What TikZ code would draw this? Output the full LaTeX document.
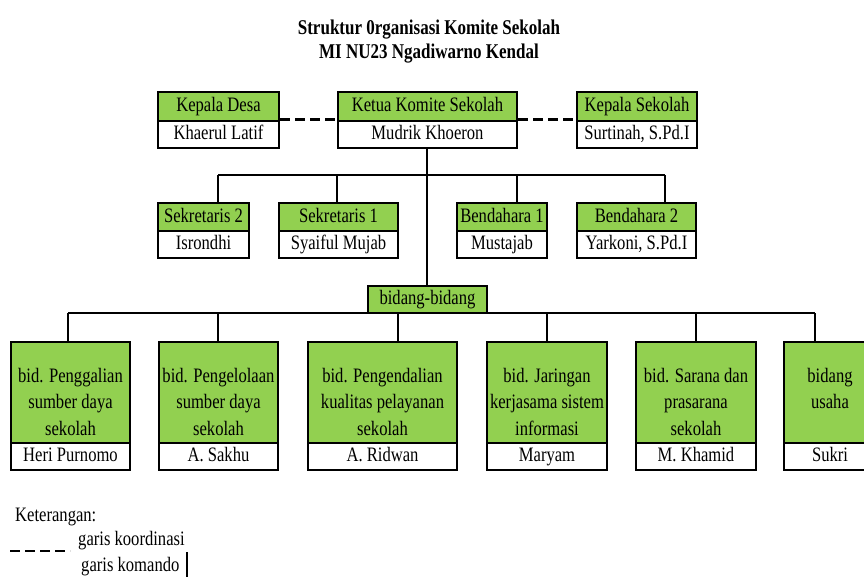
\documentclass[tikz,border=0pt]{standalone}
\usepackage{fontspec}
\setmainfont[FakeStretch=0.81]{Liberation Serif}
\definecolor{hdgreen}{HTML}{92D050}
\tikzset{
  conn/.style={line width=2.8pt},
  coord/.style={line width=2.8pt, dash pattern=on 10pt off 5pt},
  boxbase/.style={draw, line width=2.3pt, inner sep=0pt, text height=14pt, text depth=4pt,
    font=\fontsize{20.5}{26}\selectfont},
  head/.style={boxbase, fill=hdgreen},
  nm/.style={boxbase, fill=white},
  bighead/.style={draw, line width=2.3pt, fill=hdgreen, inner sep=0pt},
  btext/.style={align=center, inner sep=0pt, anchor=north, font=\fontsize{20.5}{26.5}\selectfont},
  plain/.style={inner sep=0pt, font=\fontsize{20.5}{26}\selectfont},
  ttl/.style={inner sep=0pt, anchor=base, font=\fontsize{21}{24}\selectfont\bfseries},
}
\begin{document}
\begin{tikzpicture}[x=1pt,y=-1pt]
\useasboundingbox (0,0) rectangle (864,576);
% title
\node[ttl] (t1) at (429,34) {Struktur 0rganisasi Komite Sekolah};
\node[ttl] (t2) at (429,58) {MI NU23 Ngadiwarno Kendal};
% top row
\node[head, minimum width=121pt, minimum height=29pt] (kdH) at (218.5,106.5) {Kepala Desa};
\node[nm,   minimum width=121pt, minimum height=27pt] (kdN) at (218.5,134.5) {Khaerul Latif};
\node[head, minimum width=179pt, minimum height=29pt] (ktH) at (427.5,106.5) {Ketua Komite Sekolah};
\node[nm,   minimum width=179pt, minimum height=27pt] (ktN) at (427.5,134.5) {Mudrik Khoeron};
\node[head, minimum width=120pt, minimum height=29pt] (ksH) at (637,106.5) {Kepala Sekolah};
\node[nm,   minimum width=120pt, minimum height=27pt] (ksN) at (637,134.5) {Surtinah, S.Pd.I};
% second row
\node[head, minimum width=91pt,  minimum height=28pt] (s2H) at (203.5,217) {Sekretaris 2};
\node[nm,   minimum width=91pt,  minimum height=27pt] (s2N) at (203.5,244.5) {Isrondhi};
\node[head, minimum width=119pt, minimum height=28pt] (s1H) at (338.5,217) {Sekretaris 1};
\node[nm,   minimum width=119pt, minimum height=27pt] (s1N) at (338.5,244.5) {Syaiful Mujab};
\node[head, minimum width=90pt,  minimum height=28pt] (b1H) at (502,217) {Bendahara 1};
\node[nm,   minimum width=90pt,  minimum height=27pt] (b1N) at (502,244.5) {Mustajab};
\node[head, minimum width=119pt, minimum height=28pt] (b2H) at (636.5,217) {Bendahara 2};
\node[nm,   minimum width=119pt, minimum height=27pt] (b2N) at (636.5,244.5) {Yarkoni, S.Pd.I};
% bidang
\node[head, minimum width=119pt, minimum height=27pt] (bid) at (427.5,299.5) {bidang-bidang};
% bottom row
\node[bighead, minimum width=119pt, minimum height=101pt] (p1) at (70.5,392.5) {};
\node[nm,      minimum width=119pt, minimum height=27pt]  (p1N) at (70.5,456.5) {Heri Purnomo};
\node[bighead, minimum width=119pt, minimum height=101pt] (p2) at (218.5,392.5) {};
\node[nm,      minimum width=119pt, minimum height=27pt]  (p2N) at (218.5,456.5) {A. Sakhu};
\node[bighead, minimum width=149pt, minimum height=101pt] (p3) at (382.5,392.5) {};
\node[nm,      minimum width=149pt, minimum height=27pt]  (p3N) at (382.5,456.5) {A. Ridwan};
\node[bighead, minimum width=120pt, minimum height=101pt] (p4) at (547,392.5) {};
\node[nm,      minimum width=120pt, minimum height=27pt]  (p4N) at (547,456.5) {Maryam};
\node[bighead, minimum width=120pt, minimum height=101pt] (p5) at (696,392.5) {};
\node[nm,      minimum width=120pt, minimum height=27pt]  (p5N) at (696,456.5) {M. Khamid};
\node[bighead, minimum width=92pt,  minimum height=101pt] (p6) at (830,392.5) {};
\node[nm,      minimum width=92pt,  minimum height=27pt]  (p6N) at (830,456.5) {Sukri};
\node[btext] (p1T) at ([yshift=-27pt]p1.north) {bid. Penggalian\\sumber daya\\sekolah};
\node[btext] (p2T) at ([yshift=-27pt]p2.north) {bid. Pengelolaan\\sumber daya\\sekolah};
\node[btext] (p3T) at ([yshift=-27pt]p3.north) {bid. Pengendalian\\kualitas pelayanan\\sekolah};
\node[btext] (p4T) at ([yshift=-27pt]p4.north) {bid. Jaringan\\kerjasama sistem\\informasi};
\node[btext] (p5T) at ([yshift=-27pt]p5.north) {bid. Sarana dan\\prasarana\\sekolah};
\node[btext] (p6T) at ([yshift=-27pt]p6.north) {bidang\\usaha};
% coordination (dashed)
\draw[coord] (kdN.north east) -- (ktN.north west);
\draw[coord] (ktN.north east) -- (ksN.north west);
% command lines
\coordinate (hub1) at (427,175);
\coordinate (d1) at (218,175);
\coordinate (d2) at (337,175);
\coordinate (d3) at (517,175);
\coordinate (d4) at (665,175);
\draw[conn] (ktN.south -| hub1) -- (bid.north -| hub1);
\draw[conn] (d1) -- (d4);
\draw[conn] (d1) -- (d1 |- s2H.north);
\draw[conn] (d2) -- (d2 |- s1H.north);
\draw[conn] (d3) -- (d3 |- b1H.north);
\draw[conn] (d4) -- (d4 |- b2H.north);
\coordinate (e1) at (68,313);
\coordinate (e2) at (218,313);
\coordinate (e3) at (398,313);
\coordinate (e4) at (547,313);
\coordinate (e5) at (696,313);
\coordinate (e6) at (815,313);
\draw[conn] (e1) -- (e6);
\draw[conn] (e1) -- (e1 |- p1.north);
\draw[conn] (e2) -- (e2 |- p2.north);
\draw[conn] (e3) -- (e3 |- p3.north);
\draw[conn] (e4) -- (e4 |- p4.north);
\draw[conn] (e5) -- (e5 |- p5.north);
\draw[conn] (e6) -- (e6 |- p6.north);
% legend
\node[plain, anchor=west] (ket) at (15,517) {Keterangan:};
\node[plain, anchor=west] (lk) at (78,541) {garis koordinasi};
\node[plain, anchor=west] (lm) at (81,567) {garis komando};
\coordinate (la) at (10,551);
\coordinate (lb) at (70,551);
\draw[coord] (la) -- (lb);
\coordinate (lc) at (187,552);
\coordinate (ld) at (187,580);
\draw[conn] (lc) -- (ld);
\end{tikzpicture}
\end{document}
